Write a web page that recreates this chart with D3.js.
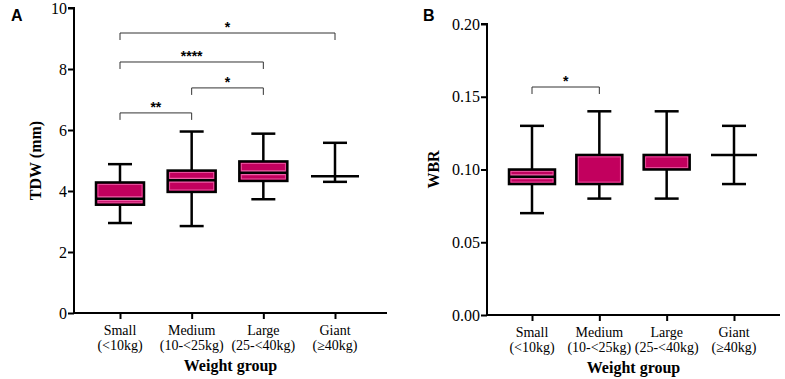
<!DOCTYPE html>
<html><head><meta charset="utf-8">
<script src="https://cdn.jsdelivr.net/npm/d3@7"></script>
<style>body{margin:0;background:#fff}svg{display:block}</style>
</head><body>
<svg id="c" width="785" height="379"></svg>
<script>
const categories = ["Small","Medium","Large","Giant"];
const categorySub = ["(<10kg)","(10-<25kg)","(25-<40kg)","(≥40kg)"];

const tdwMin = [2.95, 2.85, 3.73, 4.30];
const tdwQ1  = [3.55, 3.97, 4.33, 4.48];
const tdwMed = [3.75, 4.35, 4.60, 4.48];
const tdwQ3  = [4.28, 4.67, 4.97, 4.48];
const tdwMax = [4.88, 5.95, 5.88, 5.58];
const tdwTicks = [0, 2, 4, 6, 8, 10];
const tdwSig = [
  {from:0, to:3, y:9.18, label:"*"},
  {from:0, to:2, y:8.23, label:"****"},
  {from:1, to:2, y:7.38, label:"*"},
  {from:0, to:1, y:6.56, label:"**"}
];

const wbrMin = [0.07, 0.08, 0.08, 0.09];
const wbrQ1  = [0.09, 0.09, 0.10, 0.11];
const wbrMed = [0.095, 0.09, 0.10, 0.11];
const wbrQ3  = [0.10, 0.11, 0.11, 0.11];
const wbrMax = [0.13, 0.14, 0.14, 0.13];
const wbrTicks = [0, 0.05, 0.10, 0.15, 0.20];
const wbrSig = [{from:0, to:1, y:0.1567, label:"*"}];

const svg = d3.select("#c");
const FILL = "#c2005e", RIM = "#ee5fa8";
const SERIF = "'Liberation Serif','Times New Roman',serif";
const SANS = "'Liberation Sans',Arial,sans-serif";

function panel(o) {
  const g = svg.append("g");
  const y = d3.scaleLinear().domain(o.domain).range([o.y0, o.y1]);
  const x = d3.scalePoint().domain(categories).range([o.cx0, o.cx1]);

  const ya = g.append("g").attr("transform", `translate(${o.ax},0)`)
    .call(d3.axisLeft(y).tickValues(o.ticks).tickFormat(o.fmt).tickSize(6).tickPadding(1));
  const xa = g.append("g").attr("transform", `translate(0,${o.y0})`)
    .call(d3.axisBottom(x).tickSize(6).tickFormat(""));
  [ya, xa].forEach(a => {
    a.select(".domain").attr("stroke", "#000").attr("stroke-width", 2);
    a.selectAll(".tick line").attr("stroke", "#000").attr("stroke-width", 2);
  });
  ya.select(".domain").attr("d", `M-6,${o.y1}H0V${o.y0}`);
  xa.select(".domain").attr("d", `M${o.ax},0H${o.ax1}`);
  ya.selectAll(".tick text").attr("font-family", SERIF).attr("font-size", 16).attr("fill", "#000");

  categories.forEach((c, i) => {
    const t = g.append("text").attr("x", x(c)).attr("text-anchor", "middle")
      .attr("font-family", SERIF).attr("font-size", 14).attr("fill", "#000");
    t.append("tspan").attr("x", x(c)).attr("y", o.y0 + 22).text(c);
    t.append("tspan").attr("x", x(c)).attr("y", o.y0 + 37).text(categorySub[i]);
  });
  g.append("text").attr("x", (o.ax + o.ax1) / 2).attr("y", o.y0 + 58)
    .attr("text-anchor", "middle").attr("font-family", SERIF).attr("font-weight", "bold")
    .attr("font-size", 16).text("Weight group");
  g.append("text").attr("transform", `translate(${o.titleX},${(o.y0 + o.y1) / 2}) rotate(-90)`)
    .attr("text-anchor", "middle").attr("dy", "0.35em").attr("font-family", SERIF)
    .attr("font-weight", "bold").attr("font-size", 16).text(o.title);
  g.append("text").attr("x", o.letterX).attr("y", 21).attr("font-family", SANS)
    .attr("font-weight", "bold").attr("font-size", 16).text(o.letter);

  const bw = o.boxW, cw = 24, sw = 2.5;
  categories.forEach((c, i) => {
    const cx = x(c);
    g.append("line").attr("x1", cx).attr("x2", cx).attr("y1", y(o.max[i])).attr("y2", y(o.min[i]))
      .attr("stroke", "#000").attr("stroke-width", sw);
    [o.max[i], o.min[i]].forEach(v => g.append("line").attr("x1", cx - cw / 2).attr("x2", cx + cw / 2)
      .attr("y1", y(v)).attr("y2", y(v)).attr("stroke", "#000").attr("stroke-width", sw));
    if (o.q3[i] > o.q1[i]) {
      const top = y(o.q3[i]), bot = y(o.q1[i]);
      g.append("rect").attr("x", cx - bw / 2).attr("y", top).attr("width", bw).attr("height", bot - top)
        .attr("fill", FILL).attr("stroke", "#000").attr("stroke-width", sw);
      g.append("rect").attr("x", cx - bw / 2 + 2).attr("y", top + 2).attr("width", bw - 4).attr("height", bot - top - 4)
        .attr("fill", "none").attr("stroke", RIM).attr("stroke-width", 0.8);
      const m = y(o.med[i]);
      if (o.med[i] > o.q1[i] && o.med[i] < o.q3[i]) {
        g.append("line").attr("x1", cx - bw / 2 + 2).attr("x2", cx + bw / 2 - 2).attr("y1", m).attr("y2", m)
          .attr("stroke", RIM).attr("stroke-width", 5);
        g.append("line").attr("x1", cx - bw / 2).attr("x2", cx + bw / 2).attr("y1", m).attr("y2", m)
          .attr("stroke", "#000").attr("stroke-width", sw);
      }
    } else {
      const m = y(o.med[i]);
      g.append("line").attr("x1", cx - bw / 2).attr("x2", cx + bw / 2).attr("y1", m).attr("y2", m)
        .attr("stroke", "#000").attr("stroke-width", sw);
    }
  });

  o.sig.forEach(s => {
    const x1 = x(categories[s.from]), x2 = x(categories[s.to]), yy = y(s.y);
    g.append("path").attr("d", `M${x1},${yy + 7}V${yy}H${x2}V${yy + 7}`)
      .attr("fill", "none").attr("stroke", "#333").attr("stroke-width", 1);
    g.append("text").attr("x", (x1 + x2) / 2).attr("y", yy - 1).attr("text-anchor", "middle")
      .attr("font-family", SANS).attr("font-weight", "bold").attr("font-size", 14).text(s.label);
  });
}

panel({domain:[0,10], y0:313, y1:8, ax:74, ax1:387, cx0:120, cx1:335, ticks:tdwTicks,
  fmt:d3.format("d"), min:tdwMin, q1:tdwQ1, med:tdwMed, q3:tdwQ3, max:tdwMax, sig:tdwSig,
  boxW:48, title:"TDW (mm)", titleX:35, letter:"A", letterX:11});
panel({domain:[0,0.2], y0:315, y1:24, ax:487, ax1:780, cx0:532, cx1:734, ticks:wbrTicks,
  fmt:d3.format(".2f"), min:wbrMin, q1:wbrQ1, med:wbrMed, q3:wbrQ3, max:wbrMax, sig:wbrSig,
  boxW:46, title:"WBR", titleX:433, letter:"B", letterX:423});
</script>
</body></html>
